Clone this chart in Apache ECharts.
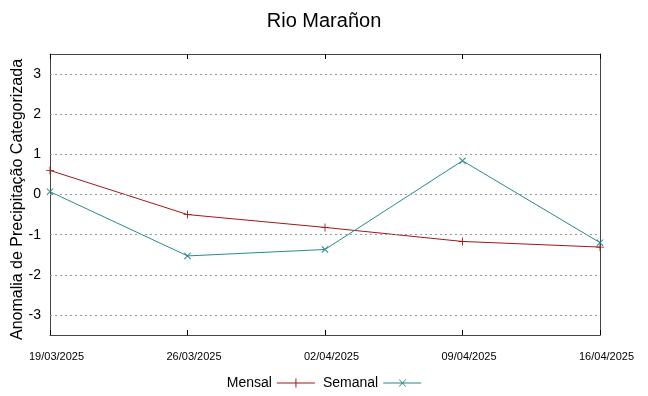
<!DOCTYPE html>
<html lang="pt">
<head>
  <meta charset="UTF-8">
  <title>Rio Marañon</title>
  <script src="https://cdn.jsdelivr.net/npm/echarts@6/dist/echarts.min.js"></script>
  <style>
    html, body { margin: 0; padding: 0; background: #fff; }
    #chart { width: 648px; height: 396px; }
  </style>
</head>
<body>
  <div id="chart"></div>
  <script>
    const dates = ['19/03/2025', '26/03/2025', '02/04/2025', '09/04/2025', '16/04/2025']
    const mensal = [0.6, -0.5, -0.82, -1.17, -1.31]
    const semanal = [0.07, -1.53, -1.37, 0.84, -1.2]
    const yTicks = [-3, -2, -1, 0, 1, 2, 3]

    const plusPath = 'path://M4,0h1v9h-1zM0,4h9v1h-9z'
    // legenda no estilo gnuplot: linha com o marcador no meio
    const plusIcon = 'path://M0,4h38v1h-38zM18.5,0h1v9h-1z'
    const crossIcon = 'path://M0,4h38v1h-38zM15.5,1L16.5,1L23,8L22,8ZM22,1L23,1L16.5,8L15.5,8Z'
    const redColor = '#a01818'
    const tealColor = '#268a8a'

    let chart = echarts.init(document.querySelector('#chart'))
    let axisLine = { show: true, onZero: false, lineStyle: { color: '#444', width: 1 } }
    let xTick = { inside: true, length: 5, lineStyle: { color: '#000' } }
    let yTick = { inside: true, length: 5, lineStyle: { color: '#000' }, customValues: yTicks }
    let option = {
      animation: false,
      title: {
        text: 'Rio Marañon',
        left: 'center',
        top: 6,
        textStyle: { fontFamily: 'Liberation Sans', fontSize: 20, fontWeight: 'normal', color: '#000' }
      },
      grid: { left: 50, right: 48, top: 54, bottom: 61, outerBoundsMode: 'none' },
      legend: {
        bottom: 1,
        left: 'center',
        align: 'right',
        itemWidth: 38,
        itemHeight: 9,
        itemGap: 8,
        textStyle: { fontFamily: 'Liberation Sans', fontSize: 14, color: '#000' },
        data: [
          { name: 'Mensal', icon: plusIcon },
          { name: 'Semanal', icon: crossIcon }
        ]
      },
      xAxis: [
        {
          type: 'category',
          data: dates,
          boundaryGap: false,
          axisLine,
          axisTick: xTick,
          axisLabel: {
            fontFamily: 'Liberation Sans', fontSize: 11, color: '#000', margin: 16,
            padding: [0, 0, 0, 13]
          },
          splitLine: { show: false }
        },
        {
          type: 'category',
          data: dates,
          position: 'top',
          boundaryGap: false,
          axisLine,
          axisTick: xTick,
          axisLabel: { show: false }
        }
      ],
      yAxis: [
        {
          type: 'value',
          min: -3.5,
          max: 3.5,
          name: 'Anomalia de Precipitação Categorizada',
          nameLocation: 'middle',
          nameGap: 24,
          nameMoveOverlap: false,
          nameTextStyle: {
            fontFamily: 'Liberation Sans', fontSize: 16, color: '#000',
            padding: [0, 10, 0, 0]
          },
          axisLine,
          axisTick: yTick,
          axisLabel: {
            fontFamily: 'Liberation Sans', fontSize: 14, color: '#000', margin: 9,
            customValues: yTicks
          },
          splitLine: { show: false }
        },
        {
          type: 'value',
          min: -3.5,
          max: 3.5,
          position: 'right',
          axisLine,
          axisTick: yTick,
          axisLabel: { show: false },
          splitLine: { show: false }
        }
      ],
      series: [
        {
          name: 'Mensal',
          type: 'line',
          data: mensal,
          symbol: plusPath,
          symbolSize: 8,
          showAllSymbol: true,
          itemStyle: { color: redColor },
          lineStyle: { color: redColor, width: 1 },
          markLine: {
            silent: true,
            symbol: 'none',
            label: { show: false },
            lineStyle: { color: '#999', type: [2, 3], width: 1 },
            data: yTicks.map(v => ({ yAxis: v }))
          }
        },
        {
          name: 'Semanal',
          type: 'line',
          data: semanal,
          symbol: plusPath,
          symbolRotate: 45,
          symbolSize: 9,
          showAllSymbol: true,
          itemStyle: { color: tealColor },
          lineStyle: { color: tealColor, width: 1 }
        }
      ]
    }
    chart.setOption(option)
  </script>
</body>
</html>
